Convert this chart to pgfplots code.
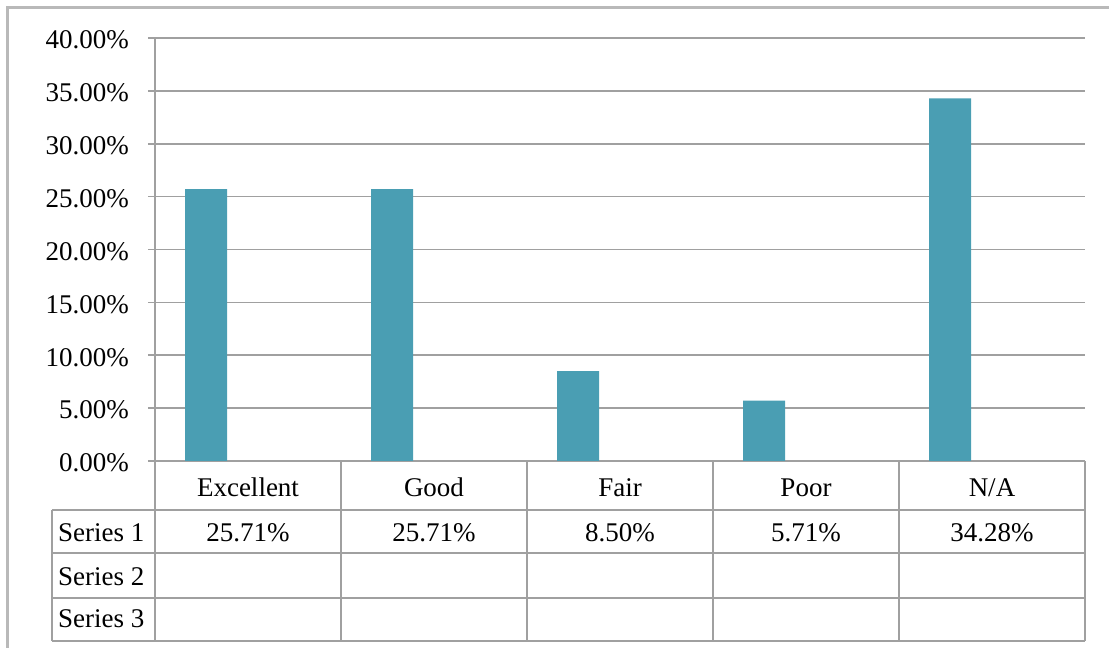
\documentclass[border=0pt]{standalone}
\usepackage{fontspec}
\setmainfont{Liberation Serif}
\usepackage{pgfplots}
\usepackage{pgfplotstable}
\pgfplotsset{compat=1.18}
\definecolor{barcol}{RGB}{74,158,179}
\definecolor{gridcol}{RGB}{160,160,160}
\definecolor{framecol}{RGB}{185,185,185}
\pgfplotstableread{
x val
0 25.71
1 25.71
2 8.50
3 5.71
4 34.28
}\datatable
\begin{document}
\fontsize{27}{32}\selectfont
\begin{tikzpicture}[x=1pt,y=1pt]
\useasboundingbox (0,0) rectangle (1109,648);
\clip (0,0) rectangle (1109,648);
\draw[framecol, line width=3pt] (7.5,-20) -- (7.5,640) -- (1200,640);
\begin{axis}[
  at={(155pt,187pt)}, anchor=south west,
  scale only axis, width=930pt, height=423pt,
  xmin=-0.5, xmax=4.5, ymin=0, ymax=40,
  clip=false,
  axis x line=bottom, axis y line=left,
  axis line style={-, draw=gridcol, line width=1.6pt},
  xtick={0,1,2,3,4},
  xticklabels={Excellent,Good,Fair,Poor,N/A},
  xtick style={draw=none},
  xticklabel style={anchor=base, yshift=-28pt, font=\fontsize{27}{32}\selectfont},
  ytick={0,5,...,40},
  ytick style={draw=gridcol, line width=1.6pt},
  tick align=outside, major tick length=7pt,
  yticklabel={\pgfmathprintnumber[fixed,fixed zerofill,precision=2]{\tick}\%},
  yticklabel style={anchor=east, xshift=-10pt, yshift=-2pt, font=\fontsize{27}{32}\selectfont},
  /pgf/number format/assume math mode=true,
  ymajorgrids, grid style={draw=gridcol, line width=1.6pt},
]
\addplot[ybar, bar width=42pt, bar shift=-42pt, fill=barcol, draw=none]
  table[x=x, y=val] {\datatable};
\addplot[draw=none, mark=none, nodes near coords,
  point meta=explicit,
  nodes near coords={\pgfmathprintnumber[fixed,fixed zerofill,precision=2]{\pgfplotspointmeta}\%},
  every node near coord/.style={anchor=base, font=\fontsize{27}{32}\selectfont, inner sep=0pt}]
  table[x=x, y expr=-7.57, meta=val] {\datatable};
% table grid
\draw[gridcol, line width=1.6pt] (axis cs:-1.0538,-4.634) -- (axis cs:4.5,-4.634);
\draw[gridcol, line width=1.6pt] (axis cs:-1.0538,-8.700) -- (axis cs:4.5,-8.700);
\draw[gridcol, line width=1.6pt] (axis cs:-1.0538,-12.955) -- (axis cs:4.5,-12.955);
\draw[gridcol, line width=1.6pt] (axis cs:-1.0538,-17.021) -- (axis cs:4.5,-17.021);
\draw[gridcol, line width=1.6pt] (axis cs:-1.0538,-4.634) -- (axis cs:-1.0538,-17.021);
\foreach \xx in {-0.5,0.5,1.5,2.5,3.5,4.5} {
  \edef\temp{\noexpand\draw[gridcol, line width=1.6pt] (axis cs:\xx,0) -- (axis cs:\xx,-17.021);}
  \temp
}
\node[anchor=base west, inner sep=0pt] at (axis cs:-1.0215,-7.57) {Series 1};
\node[anchor=base west, inner sep=0pt] at (axis cs:-1.0215,-11.73) {Series 2};
\node[anchor=base west, inner sep=0pt] at (axis cs:-1.0215,-15.79) {Series 3};
\end{axis}
\end{tikzpicture}
\end{document}
